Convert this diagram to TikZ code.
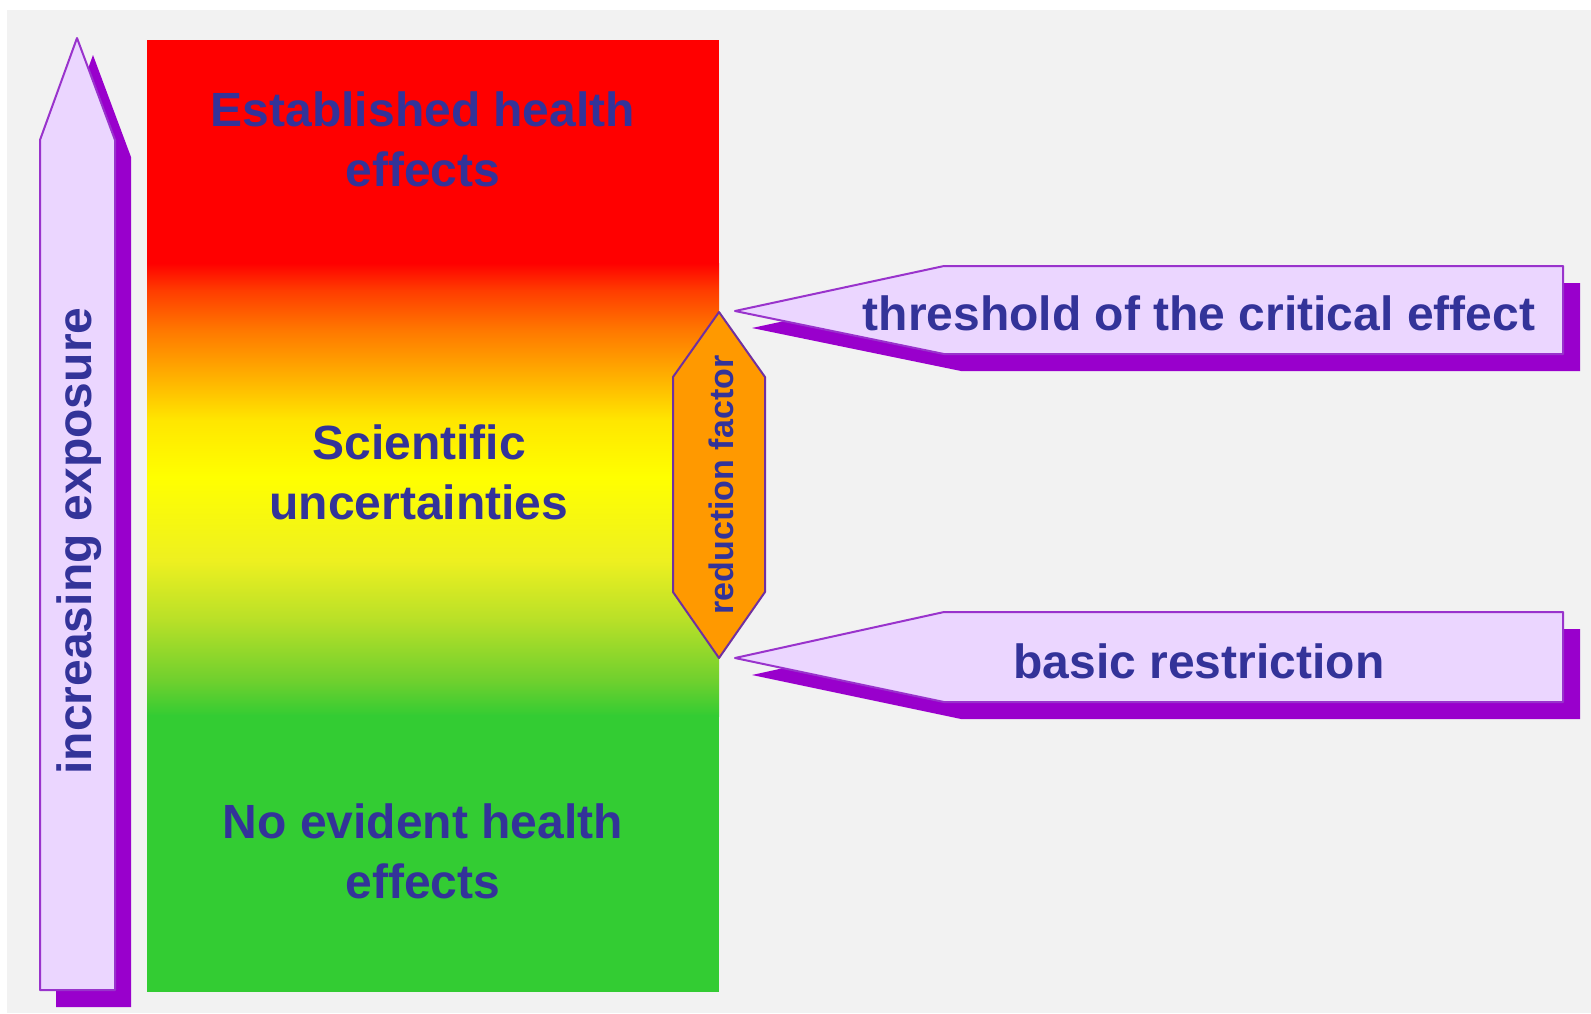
\documentclass[tikz,border=0pt]{standalone}
\usepackage{fontspec}
\setmainfont{Liberation Sans}
\definecolor{txtblue}{RGB}{51,51,153}
\definecolor{shpurple}{RGB}{153,0,204}
\definecolor{edgepurple}{RGB}{153,51,204}
\definecolor{lav}{RGB}{235,214,255}
\definecolor{bggray}{RGB}{242,242,242}
\definecolor{hexorange}{RGB}{255,153,0}
\definecolor{hexedge}{RGB}{112,48,160}
\definecolor{grn}{RGB}{51,204,51}
\definecolor{ga}{RGB}{112,208,46}
\definecolor{gb}{RGB}{184,224,40}
\definecolor{gc}{RGB}{238,240,32}
\definecolor{gy}{RGB}{255,255,0}
\definecolor{gd}{RGB}{255,230,0}
\definecolor{ge}{RGB}{255,180,0}
\definecolor{gf}{RGB}{255,120,0}
\definecolor{gg}{RGB}{255,60,0}
\definecolor{gr}{RGB}{255,0,0}
\pgfdeclareverticalshading{colcol}{100bp}{color(0bp)=(grn); color(25bp)=(grn); color(28.97bp)=(ga); color(35.6bp)=(gb); color(42.2bp)=(gc); color(51.4bp)=(gy); color(57.7bp)=(gd); color(62.1bp)=(ge); color(67.6bp)=(gf); color(72bp)=(gg); color(75bp)=(gr); color(100bp)=(gr)}
\begin{document}
\begin{tikzpicture}[x=1pt,y=-1pt,
  txt/.style={text=txtblue,font=\fontsize{48}{60}\selectfont\bfseries,align=center,inner sep=0pt},
  shadowfill/.style={fill=shpurple,draw=none},
  frontshape/.style={fill=lav,draw=edgepurple,line width=2pt,line join=round},
]
\useasboundingbox (0,0) rectangle (1591,1013);
\fill[white] (0,0) rectangle (1591,1013);
\fill[bggray] (7,10) rectangle (1591,1013);
% colour column
\fill[gr] (147,40) rectangle (719,264);
\shade[shading=colcol] (147,263) rectangle (719,716);
\fill[grn] (147,715) rectangle (719,992);
% left arrow
\fill[shadowfill] (56,1007) -- (56,157) -- (93,55) -- (131,157) -- (131,1007) -- cycle;
\draw[frontshape] (40,990) -- (40,140) -- (77,38) -- (115,140) -- (115,990) -- cycle;
\node[txt,rotate=90] (exp) at (79,541) {increasing exposure};
% threshold arrow
\fill[shadowfill] (752,328) -- (961,283) -- (1580,283) -- (1580,371) -- (961,371) -- cycle;
\draw[frontshape] (735,311) -- (944,266) -- (1563,266) -- (1563,354) -- (944,354) -- cycle;
\node[txt] (thr) at (1199,313) {threshold of the critical effect};
% basic restriction arrow
\fill[shadowfill] (752,675) -- (961,629) -- (1580,629) -- (1580,719) -- (961,719) -- cycle;
\draw[frontshape] (735,658) -- (944,612) -- (1563,612) -- (1563,702) -- (944,702) -- cycle;
\node[txt] (br) at (1199,661) {basic restriction};
% reduction factor hexagon
\draw[fill=hexorange,draw=hexedge,line width=2pt,line join=round]
  (719,312) -- (765,377) -- (765,592) -- (719,658) -- (673,592) -- (673,377) -- cycle;
\node[txt,rotate=90,font=\fontsize{34}{40}\selectfont\bfseries] (rf) at (721,485) {reduction factor};
% column texts
\node[txt] (est) at (423,139) {Established health\\effects};
\node[txt] (sci) at (419,472) {Scientific\\uncertainties};
\node[txt] (noe) at (423,851) {No evident health\\effects};
\end{tikzpicture}
\end{document}
